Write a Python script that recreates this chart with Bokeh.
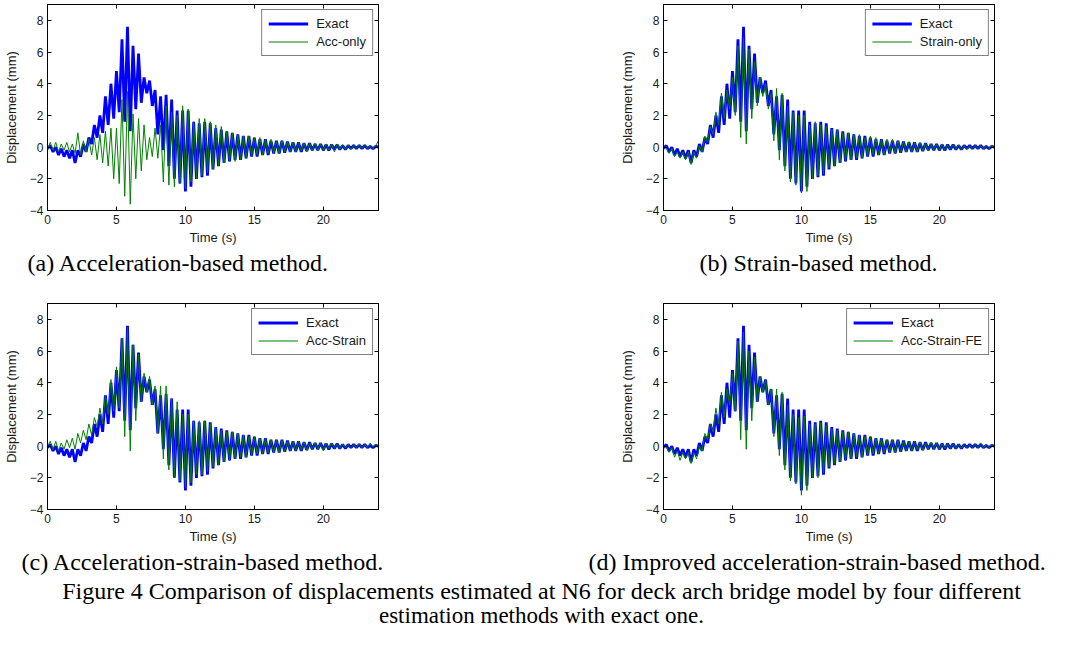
import numpy as np
from bokeh.plotting import figure
from bokeh.models import Range1d, LinearAxis, Title, Legend, LegendItem, FixedTicker
from bokeh.layouts import column, row
from bokeh.embed import file_html
from bokeh.resources import INLINE
from bokeh.core.properties import value

# ---------------- data (alternating extremes, every 0.2 s) -------------
STEP = 0.2
X_TICKS = [0, 5, 10, 15, 20]
Y_TICKS = [-4, -2, 0, 2, 4, 6, 8]

EXACT = [
    -0.1, 0.1, -0.3, 0.0, -0.5, -0.1, -0.6, -0.2, -0.7, -0.2,
    -1.0, -0.2, -0.6, 0.2, -0.3, 0.6, 0.2, 1.4, 0.6, 2.0,
    0.9, 3.2, 1.4, 4.0, 1.8, 4.8, 2.2, 6.8, 1.6, 7.6,
    1.0, 6.4, 2.4, 5.9, 2.8, 4.4, 3.4, 4.2, 2.6, 3.6,
    0.8, 3.2, -0.2, 3.3, -1.2, 3.0, -2.0, 2.3, -2.3, 2.3,
    -2.8, 2.3, -2.5, 1.6, -2.0, 1.5, -1.9, 1.6, -1.8, 1.5,
    -1.4, 1.2, -1.2, 1.1, -1.0, 1.0, -0.9, 0.9, -0.8, 0.8,
    -0.8, 0.7, -0.7, 0.7, -0.6, 0.6, -0.6, 0.5, -0.5, 0.5,
    -0.5, 0.4, -0.4, 0.4, -0.4, 0.4, -0.35, 0.35, -0.3, 0.3,
    -0.3, 0.3, -0.3, 0.25, -0.25, 0.25, -0.2, 0.2, -0.2, 0.2,
    -0.2, 0.15, -0.2, 0.15, -0.15, 0.15, -0.15, 0.1, -0.15, 0.1,
    -0.1, 0.1, -0.1, 0.1, -0.1, 0.1, -0.1, 0.05, -0.1, 0.05,
    0.0,
]

ACC_ONLY = [
    -0.2, 0.3, -0.2, 0.3, -0.3, 0.2, -0.2, 0.3, -0.3, 0.2,
    -0.4, 0.9, -0.5, 0.4, -0.3, 0.5, -0.5, 0.6, -0.8, 0.8,
    -1.0, 1.0, -1.2, 1.2, -2.0, 1.2, -2.3, 3.0, -3.1, 3.5,
    -3.6, 2.1, -2.0, 1.8, -1.5, 1.4, -0.8, 0.6, -0.6, 1.2,
    -0.7, 1.4, -2.2, 2.6, -2.4, 2.2, -2.5, 2.0, -2.3, 2.6,
    -2.6, 2.4, -2.2, 1.6, -2.0, 1.8, -1.8, 1.8, -1.6, 1.6,
    -1.4, 1.4, -1.2, 1.3, -1.0, 1.0, -0.9, 0.9, -0.9, 0.8,
    -0.8, 0.7, -0.7, 0.7, -0.6, 0.6, -0.5, 0.6, -0.5, 0.5,
    -0.4, 0.5, -0.4, 0.4, -0.4, 0.4, -0.3, 0.35, -0.3, 0.3,
    -0.3, 0.3, -0.25, 0.25, -0.3, 0.25, -0.2, 0.25, -0.2, 0.2,
    -0.2, 0.2, -0.2, 0.2, -0.3, 0.2, -0.15, 0.15, -0.15, 0.15,
    -0.15, 0.15, -0.1, 0.15, -0.1, 0.15, -0.1, 0.1, -0.1, 0.1,
    0.4,
]

STRAIN_ONLY = [
    -0.1, 0.0, -0.4, -0.1, -0.6, -0.3, -0.7, -0.3, -0.8, -0.3,
    -1.1, -0.3, -0.7, 0.1, -0.3, 0.7, 0.3, 1.3, 0.8, 2.2,
    1.4, 3.4, 1.8, 3.6, 2.4, 4.4, 2.0, 6.4, 0.6, 6.9,
    0.2, 6.2, 1.8, 5.4, 2.6, 4.4, 3.2, 4.0, 2.4, 3.4,
    0.4, 3.7, -0.8, 3.4, -1.5, 2.6, -2.2, 2.2, -2.4, 2.0,
    -2.9, 2.0, -2.8, 1.4, -2.0, 1.6, -1.8, 1.4, -1.7, 1.3,
    -1.3, 1.1, -1.2, 1.1, -1.0, 0.9, -0.9, 0.9, -0.8, 0.8,
    -0.7, 0.8, -0.7, 0.6, -0.6, 0.7, -0.5, 0.6, -0.5, 0.5,
    -0.5, 0.5, -0.4, 0.5, -0.4, 0.4, -0.35, 0.35, -0.3, 0.35,
    -0.3, 0.3, -0.3, 0.3, -0.25, 0.25, -0.25, 0.2, -0.2, 0.2,
    -0.2, 0.2, -0.2, 0.15, -0.15, 0.15, -0.15, 0.15, -0.15, 0.1,
    -0.15, 0.1, -0.1, 0.1, -0.1, 0.1, -0.1, 0.1, -0.1, 0.1,
    -0.05,
]

ACC_STRAIN = [
    0.0, 0.3, -0.2, 0.3, -0.3, 0.2, -0.2, 0.4, -0.1, 0.5,
    -0.2, 0.8, 0.2, 1.0, 0.4, 1.4, 0.7, 1.8, 1.2, 2.4,
    1.4, 3.2, 2.0, 4.2, 2.2, 5.0, 2.4, 6.8, 0.6, 7.5,
    -0.3, 6.4, 1.6, 5.8, 2.8, 4.6, 3.4, 4.4, 2.6, 3.8,
    0.8, 3.8, -0.8, 3.8, -1.5, 3.0, -2.0, 2.8, -2.2, 2.0,
    -2.6, 2.0, -2.3, 1.6, -1.8, 1.6, -1.8, 1.6, -1.6, 1.4,
    -1.3, 1.2, -1.2, 1.0, -1.0, 0.9, -0.9, 0.9, -0.8, 0.8,
    -0.7, 0.7, -0.7, 0.6, -0.6, 0.6, -0.5, 0.5, -0.5, 0.5,
    -0.4, 0.4, -0.4, 0.4, -0.4, 0.35, -0.35, 0.3, -0.3, 0.3,
    -0.3, 0.3, -0.25, 0.25, -0.25, 0.2, -0.2, 0.2, -0.2, 0.2,
    -0.3, 0.2, -0.15, 0.2, -0.15, 0.15, -0.15, 0.1, -0.1, 0.1,
    -0.1, 0.1, -0.1, 0.15, -0.1, 0.1, -0.1, 0.2, -0.05, 0.1,
    0.0,
]

ACC_STRAIN_FE = [
    -0.1, 0.0, -0.4, -0.1, -0.7, -0.3, -0.9, -0.4, -0.8, -0.4,
    -1.1, -0.4, -0.8, 0.0, -0.3, 0.8, 0.4, 1.4, 0.9, 2.4,
    1.4, 3.4, 1.8, 3.6, 2.6, 4.6, 2.2, 6.6, 0.4, 7.2,
    -0.2, 6.0, 1.6, 5.6, 2.8, 4.4, 3.4, 4.2, 2.6, 3.6,
    0.6, 3.6, -0.6, 3.4, -1.5, 2.6, -2.2, 2.0, -2.4, 1.8,
    -3.1, 1.9, -2.8, 1.4, -2.0, 1.4, -2.0, 1.5, -1.7, 1.3,
    -1.3, 1.1, -1.1, 1.0, -1.0, 0.9, -0.9, 0.9, -0.8, 0.8,
    -0.7, 0.7, -0.7, 0.6, -0.6, 0.6, -0.5, 0.5, -0.5, 0.5,
    -0.4, 0.4, -0.4, 0.4, -0.4, 0.35, -0.35, 0.3, -0.3, 0.3,
    -0.3, 0.3, -0.25, 0.25, -0.25, 0.2, -0.2, 0.25, -0.2, 0.2,
    -0.2, 0.15, -0.15, 0.15, -0.15, 0.15, -0.15, 0.1, -0.15, 0.1,
    -0.1, 0.1, -0.1, 0.1, -0.1, 0.2, -0.1, 0.1, -0.1, 0.1,
    0.0,
]

PANELS = [
    ("Acc-only", ACC_ONLY, "(a) Acceleration-based method."),
    ("Strain-only", STRAIN_ONLY, "(b) Strain-based method."),
    ("Acc-Strain", ACC_STRAIN, "(c) Acceleration-strain-based method."),
    ("Acc-Strain-FE", ACC_STRAIN_FE, "(d) Improved acceleration-strain-based method."),
]
CAPTION_LINES = ["Figure 4 Comparison of displacements estimated at N6 for deck arch bridge model by four different",
                 "estimation methods with exact one."]

T = np.round(np.arange(len(EXACT)) * STEP, 2)

SANS = "Liberation Sans"
SERIF = "Liberation Serif"
TXT = "#1a1a1a"


def panel(label, est, caption, width, bl, br, height, bt, bb, cap_offset):
    p = figure(width=width, height=height, x_range=Range1d(0, 24), y_range=Range1d(-4, 9),
               output_backend="svg", toolbar_location=None,
               min_border_left=bl, min_border_right=br, min_border_top=bt, min_border_bottom=bb)
    p.grid.visible = False
    p.outline_line_color = "black"
    p.outline_line_alpha = 1
    r1 = p.line(T, EXACT, line_color="#0000ff", line_width=2.8)
    r2 = p.line(T, est, line_color="#008000", line_width=1)

    p.xaxis.ticker = FixedTicker(ticks=X_TICKS)
    p.yaxis.ticker = FixedTicker(ticks=Y_TICKS)
    for ax in p.xaxis + p.yaxis:
        ax.major_tick_in = 4
        ax.major_tick_out = 0
        ax.minor_tick_line_color = None
        ax.axis_line_color = "black"
        ax.major_tick_line_color = "black"
        ax.major_label_text_color = TXT
        ax.major_label_text_font = SANS
        ax.major_label_text_font_size = "12px"
        ax.axis_label_text_font = SANS
        ax.axis_label_text_font_size = "13px"
        ax.axis_label_text_font_style = "normal"
        ax.axis_label_text_color = TXT
    p.xaxis.major_label_standoff = 4
    p.xaxis.axis_label_standoff = 3
    p.yaxis.major_label_standoff = 4
    p.yaxis.axis_label_standoff = 8
    p.xaxis.axis_label = "Time (s)"
    p.yaxis.axis_label = "Displacement (mm)"

    for ticks, side in ((X_TICKS, "above"), (Y_TICKS, "right")):
        ax = LinearAxis(ticker=FixedTicker(ticks=ticks), major_tick_in=4, major_tick_out=0,
                        minor_tick_line_color=None, major_label_text_font_size="1px",
                        major_label_text_color=None, major_label_standoff=0,
                        axis_line_color="black", major_tick_line_color="black")
        p.add_layout(ax, side)

    legend = Legend(items=[LegendItem(label="Exact", renderers=[r1]),
                           LegendItem(label=label, renderers=[r2])],
                    location="top_right", border_line_color="black", border_line_width=1,
                    background_fill_color="white", background_fill_alpha=1,
                    label_text_font=SANS, label_text_font_size="13px", label_text_color=TXT,
                    glyph_width=40, glyph_height=15, label_height=15, spacing=3,
                    padding=6, margin=5, label_standoff=8)
    p.add_layout(legend)

    cap = Title(text=caption, align="left", offset=cap_offset, standoff=0,
                text_font=SERIF, text_font_size="24px", text_font_style="normal",
                text_color="black")
    p.add_layout(cap, "below")
    return p


pa = panel(*PANELS[0], width=548, bl=47, br=170, height=298, bt=4, bb=88, cap_offset=-20)
pb = panel(*PANELS[1], width=525, bl=115, br=79, height=298, bt=4, bb=88, cap_offset=36)
pc = panel(*PANELS[2], width=548, bl=47, br=170, height=280, bt=5, bb=69, cap_offset=-26)
pd = panel(*PANELS[3], width=525, bl=115, br=79, height=280, bt=5, bb=69, cap_offset=-75)

cf = figure(width=1073, height=60, x_range=Range1d(0, 1073), y_range=Range1d(0, 60),
            output_backend="svg", toolbar_location=None,
            min_border_left=0, min_border_right=0, min_border_top=0, min_border_bottom=0)
cf.axis.visible = False
cf.grid.visible = False
cf.outline_line_color = None
cf.text(x=[541], y=[48], text=CAPTION_LINES[:1], text_align="center", text_baseline="middle",
        text_font=value(SERIF), text_font_size="24px", text_color="black")
cf.text(x=[541], y=[23], text=CAPTION_LINES[1:], text_align="center", text_baseline="middle",
        text_font=value(SERIF), text_font_size="23px", text_color="black")

layout = column(row(pa, pb), row(pc, pd), cf)

with open("out.html", "w") as f:
    f.write(file_html(layout, INLINE))
